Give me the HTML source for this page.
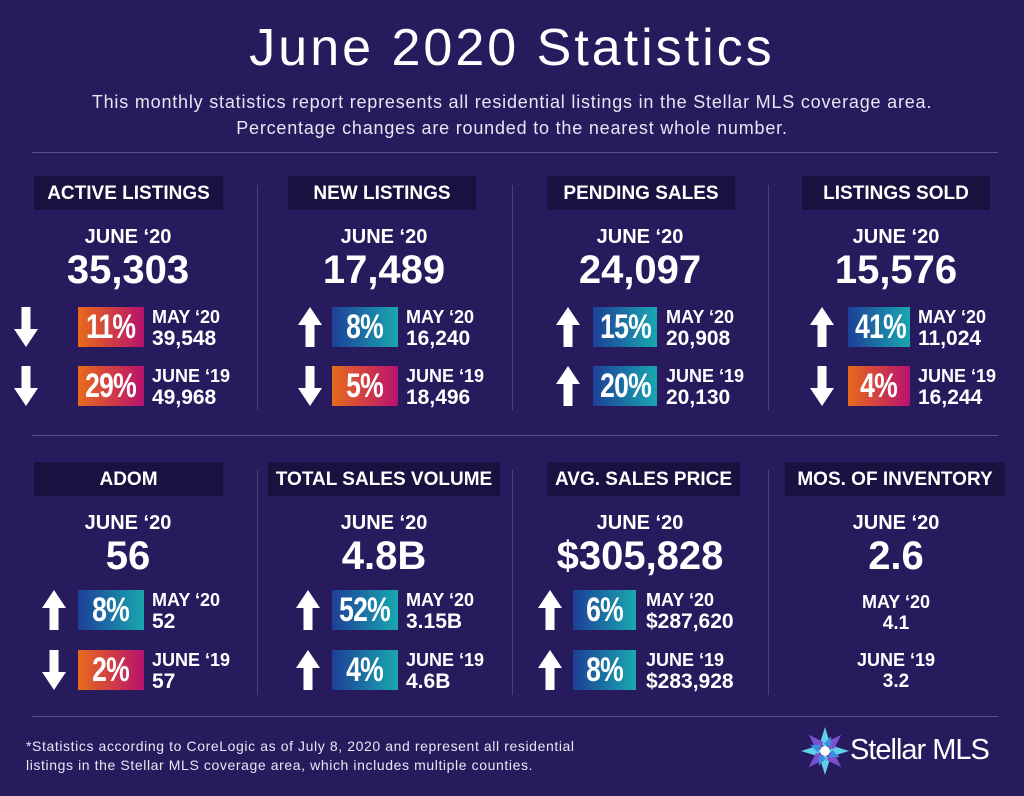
<!DOCTYPE html>
<html><head><meta charset="utf-8"><style>
body{margin:0;width:1024px;height:796px;background:#271b5e;font-family:"Liberation Sans",sans-serif;color:#fff;overflow:hidden;position:relative}
.a{position:absolute}
.hr{position:absolute;left:32px;width:966px;height:1px;background:#5a5090}
.vr{position:absolute;width:1px;background:#4a4080}
.col{position:absolute;width:256px;height:290px}
.hd{position:absolute;top:0;height:34px;background:#17123f;font-weight:bold;font-size:19px;line-height:35px;text-align:center}
.mo{position:absolute;top:50px;left:0;width:256px;text-align:center;font-weight:bold;font-size:20px}
.big{position:absolute;top:72px;left:0;width:256px;text-align:center;font-weight:bold;font-size:40px}
.pc{position:absolute;height:40px;font-weight:bold;font-size:34px;line-height:41px;text-align:center;overflow:hidden}
.pc span{display:inline-block;transform:scaleX(0.78);letter-spacing:-1px}
.dn{background:linear-gradient(90deg,#e86a1c,#b8126e)}
.up{background:linear-gradient(90deg,#1d3f98,#19a7b0)}
.lb{position:absolute;font-weight:bold;font-size:18px;line-height:20px}
.lb b{display:block;font-size:21px;line-height:23px}
.ar{position:absolute;width:24px;height:40px}
</style></head><body>
<div class="a" style="top:18px;left:0;width:1024px;text-align:center;font-size:52px;letter-spacing:3px">June 2020 Statistics</div>
<div class="a" style="top:89px;left:0;width:1024px;text-align:center;font-size:18px;letter-spacing:0.8px;line-height:26px;color:#e8e6f2">This monthly statistics report represents all residential listings in the Stellar MLS coverage area.<br>Percentage changes are rounded to the nearest whole number.</div>
<div class="hr" style="top:152px"></div>
<div class="hr" style="top:435px"></div>
<div class="hr" style="top:716px"></div>
<div class="vr" style="left:257px;top:185px;height:225px"></div>
<div class="vr" style="left:512px;top:185px;height:225px"></div>
<div class="vr" style="left:768px;top:185px;height:225px"></div>
<div class="vr" style="left:257px;top:470px;height:225px"></div>
<div class="vr" style="left:512px;top:470px;height:225px"></div>
<div class="vr" style="left:768px;top:470px;height:225px"></div>

<svg width="0" height="0" style="position:absolute"><defs>
<symbol id="down" viewBox="0 0 24 40"><path d="M7.5 0h9v22h7.5L12 40 0 22h7.5z" fill="#fff"/></symbol>
<symbol id="upa" viewBox="0 0 24 40"><path d="M7.5 40h9V18h7.5L12 0 0 18h7.5z" fill="#fff"/></symbol>
</defs></svg>

<!-- Row 1 -->
<div class="col" style="left:0;top:176px">
<div class="hd" style="left:34px;width:189px">ACTIVE LISTINGS</div>
<div class="mo">JUNE ‘20</div>
<div class="big">35,303</div>
<svg class="ar" style="left:14px;top:131px"><use href="#down"/></svg>
<div class="pc dn" style="left:78px;top:131px;width:66px"><span>11%</span></div>
<div class="lb" style="left:152px;top:131px">MAY ‘20<b>39,548</b></div>
<svg class="ar" style="left:14px;top:190px"><use href="#down"/></svg>
<div class="pc dn" style="left:78px;top:190px;width:66px"><span>29%</span></div>
<div class="lb" style="left:152px;top:190px">JUNE ‘19<b>49,968</b></div>
</div>

<div class="col" style="left:256px;top:176px">
<div class="hd" style="left:32px;width:188px">NEW LISTINGS</div>
<div class="mo">JUNE ‘20</div>
<div class="big">17,489</div>
<svg class="ar" style="left:42px;top:131px"><use href="#upa"/></svg>
<div class="pc up" style="left:76px;top:131px;width:66px"><span>8%</span></div>
<div class="lb" style="left:150px;top:131px">MAY ‘20<b>16,240</b></div>
<svg class="ar" style="left:42px;top:190px"><use href="#down"/></svg>
<div class="pc dn" style="left:76px;top:190px;width:66px"><span>5%</span></div>
<div class="lb" style="left:150px;top:190px">JUNE ‘19<b>18,496</b></div>
</div>

<div class="col" style="left:512px;top:176px">
<div class="hd" style="left:35px;width:188px">PENDING SALES</div>
<div class="mo">JUNE ‘20</div>
<div class="big">24,097</div>
<svg class="ar" style="left:44px;top:131px"><use href="#upa"/></svg>
<div class="pc up" style="left:81px;top:131px;width:64px"><span>15%</span></div>
<div class="lb" style="left:154px;top:131px">MAY ‘20<b>20,908</b></div>
<svg class="ar" style="left:44px;top:190px"><use href="#upa"/></svg>
<div class="pc up" style="left:81px;top:190px;width:64px"><span>20%</span></div>
<div class="lb" style="left:154px;top:190px">JUNE ‘19<b>20,130</b></div>
</div>

<div class="col" style="left:768px;top:176px">
<div class="hd" style="left:34px;width:188px">LISTINGS SOLD</div>
<div class="mo">JUNE ‘20</div>
<div class="big">15,576</div>
<svg class="ar" style="left:42px;top:131px"><use href="#upa"/></svg>
<div class="pc up" style="left:80px;top:131px;width:62px"><span>41%</span></div>
<div class="lb" style="left:150px;top:131px">MAY ‘20<b>11,024</b></div>
<svg class="ar" style="left:42px;top:190px"><use href="#down"/></svg>
<div class="pc dn" style="left:80px;top:190px;width:62px"><span>4%</span></div>
<div class="lb" style="left:150px;top:190px">JUNE ‘19<b>16,244</b></div>
</div>

<!-- Row 2 -->
<div class="col" style="left:0;top:462px">
<div class="hd" style="left:34px;width:189px">ADOM</div>
<div class="mo">JUNE ‘20</div>
<div class="big">56</div>
<svg class="ar" style="left:42px;top:128px"><use href="#upa"/></svg>
<div class="pc up" style="left:78px;top:128px;width:66px"><span>8%</span></div>
<div class="lb" style="left:152px;top:128px">MAY ‘20<b>52</b></div>
<svg class="ar" style="left:42px;top:188px"><use href="#down"/></svg>
<div class="pc dn" style="left:78px;top:188px;width:66px"><span>2%</span></div>
<div class="lb" style="left:152px;top:188px">JUNE ‘19<b>57</b></div>
</div>

<div class="col" style="left:256px;top:462px">
<div class="hd" style="left:12px;width:232px">TOTAL SALES VOLUME</div>
<div class="mo">JUNE ‘20</div>
<div class="big">4.8B</div>
<svg class="ar" style="left:40px;top:128px"><use href="#upa"/></svg>
<div class="pc up" style="left:76px;top:128px;width:66px"><span>52%</span></div>
<div class="lb" style="left:150px;top:128px">MAY ‘20<b>3.15B</b></div>
<svg class="ar" style="left:40px;top:188px"><use href="#upa"/></svg>
<div class="pc up" style="left:76px;top:188px;width:66px"><span>4%</span></div>
<div class="lb" style="left:150px;top:188px">JUNE ‘19<b>4.6B</b></div>
</div>

<div class="col" style="left:512px;top:462px">
<div class="hd" style="left:35px;width:193px">AVG. SALES PRICE</div>
<div class="mo">JUNE ‘20</div>
<div class="big">$305,828</div>
<svg class="ar" style="left:26px;top:128px"><use href="#upa"/></svg>
<div class="pc up" style="left:61px;top:128px;width:63px"><span>6%</span></div>
<div class="lb" style="left:134px;top:128px">MAY ‘20<b>$287,620</b></div>
<svg class="ar" style="left:26px;top:188px"><use href="#upa"/></svg>
<div class="pc up" style="left:61px;top:188px;width:63px"><span>8%</span></div>
<div class="lb" style="left:134px;top:188px">JUNE ‘19<b>$283,928</b></div>
</div>

<div class="col" style="left:768px;top:462px">
<div class="hd" style="left:17px;width:220px">MOS. OF INVENTORY</div>
<div class="mo">JUNE ‘20</div>
<div class="big">2.6</div>
<div class="lb" style="left:0;width:256px;text-align:center;top:130px">MAY ‘20<b style="font-size:19px">4.1</b></div>
<div class="lb" style="left:0;width:256px;text-align:center;top:188px">JUNE ‘19<b style="font-size:19px">3.2</b></div>
</div>

<div class="a" style="left:26px;top:737px;font-size:14px;letter-spacing:0.6px;line-height:19px;color:#e8e6f2">*Statistics according to CoreLogic as of July  8, 2020 and represent all residential<br>listings in the Stellar MLS coverage area, which includes multiple counties.</div>

<svg class="a" style="left:800px;top:726px" width="50" height="50" viewBox="-25 -25 50 50">
<g fill="#5fd0e8"><polygon points="0,-24 5,-8 0,-4 -5,-8" /><polygon points="0,24 5,8 0,4 -5,8"/><polygon points="-24,0 -8,5 -4,0 -8,-5"/><polygon points="24,0 8,5 4,0 8,-5"/></g>
<g fill="#7b4fd0" transform="rotate(45)"><polygon points="0,-23 5,-8 0,-4 -5,-8" /><polygon points="0,23 5,8 0,4 -5,8"/><polygon points="-23,0 -8,5 -4,0 -8,-5"/><polygon points="23,0 8,5 4,0 8,-5"/></g>
<g fill="#3a8fe0" transform="rotate(22.5)"><polygon points="0,-16 4,-6 -4,-6"/><polygon points="0,16 4,6 -4,6"/><polygon points="-16,0 -6,4 -6,-4"/><polygon points="16,0 6,4 6,-4"/></g>
<circle r="5" fill="#fff"/></svg>
<div class="a" style="left:850px;top:734px;font-size:29px;letter-spacing:-1px">Stellar MLS</div>
</body></html>
